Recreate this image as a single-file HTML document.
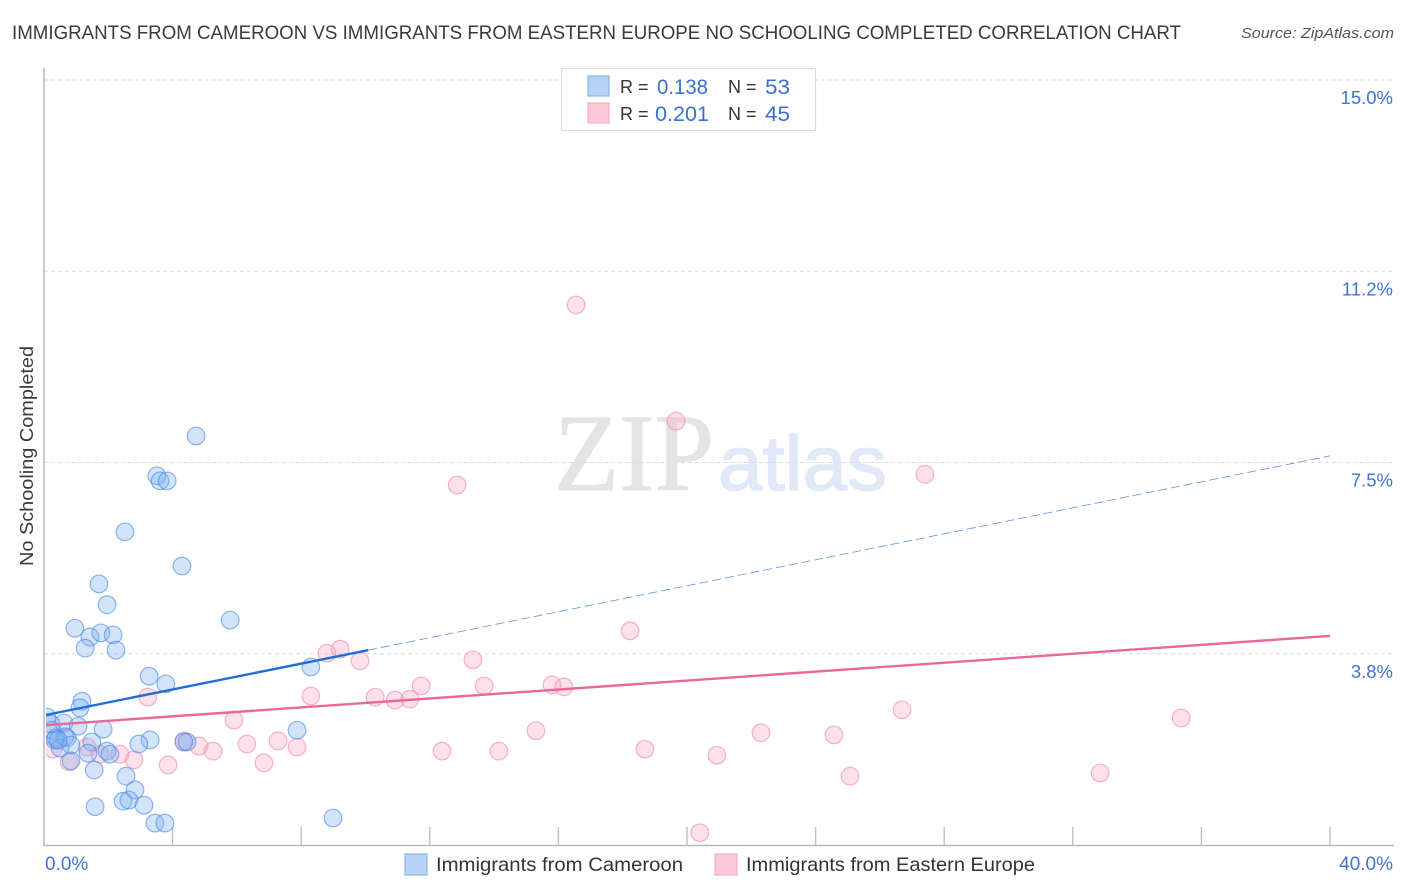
<!DOCTYPE html>
<html lang="en">
<head>
<meta charset="utf-8">
<title>Immigrants from Cameroon vs Immigrants from Eastern Europe No Schooling Completed Correlation Chart</title>
<style>
html,body{margin:0;padding:0;background:#fff;width:1406px;height:892px;overflow:hidden}
svg{display:block;font-family:"Liberation Sans",sans-serif}
</style>
</head>
<body>
<svg id="chart" xmlns="http://www.w3.org/2000/svg" width="1406" height="892" viewBox="0 0 1406 892">
  <defs>
    <clipPath id="plot-clip"><rect x="46" y="60" width="1348" height="785"/></clipPath>
  </defs>
  <rect x="0" y="0" width="1406" height="892" fill="#fff"/>
  <text x="12" y="39" font-size="19" fill="#3a3a3a" textLength="1169" lengthAdjust="spacingAndGlyphs">IMMIGRANTS FROM CAMEROON VS IMMIGRANTS FROM EASTERN EUROPE NO SCHOOLING COMPLETED CORRELATION CHART</text>
  <text x="1394" y="38" font-size="15" font-style="italic" fill="#555" text-anchor="end" textLength="153" lengthAdjust="spacingAndGlyphs">Source: ZipAtlas.com</text>

  <g>
    <text x="554" y="490" font-family="'Liberation Serif',serif" font-size="110" fill="#e4e4e4" stroke="#e4e4e4" stroke-width="1" textLength="160" lengthAdjust="spacingAndGlyphs">ZIP</text>
    <text x="718" y="490" font-size="77" fill="#dfe9f8" stroke="#dfe9f8" stroke-width="1.5" textLength="169" lengthAdjust="spacingAndGlyphs">atlas</text>
  </g>

  <g id="grid"></g>
  <g id="axes"></g>
  <g id="points-europe" clip-path="url(#plot-clip)"></g>
  <g id="points-cameroon" clip-path="url(#plot-clip)"></g>
  <g id="trends" clip-path="url(#plot-clip)"></g>
  <g id="labels"></g>

  <text transform="translate(33,456) rotate(-90)" font-size="18.5" fill="#3a3a3a" text-anchor="middle" textLength="220" lengthAdjust="spacingAndGlyphs">No Schooling Completed</text>

  <g>
    <rect x="561.5" y="68.5" width="254" height="62" fill="#fff" stroke="#ddd" stroke-width="1.2"/>
    <rect x="588" y="76" width="21" height="20" fill="#b5d2f7" stroke="#8ab6ea" stroke-width="1.2"/>
    <rect x="588" y="103" width="21" height="20" fill="#fcc9d9" stroke="#f4adc4" stroke-width="1.2"/>
    <text x="620" y="93" font-size="18" fill="#333">R =</text>
    <text x="657" y="94" font-size="21.5" fill="#3a70d2" textLength="51" lengthAdjust="spacingAndGlyphs">0.138</text>
    <text x="728" y="93" font-size="18" fill="#333">N =</text>
    <text x="765" y="94" font-size="21.5" fill="#3a70d2" textLength="25" lengthAdjust="spacingAndGlyphs">53</text>
    <text x="620" y="120" font-size="18" fill="#333">R =</text>
    <text x="655" y="121" font-size="21.5" fill="#3a70d2" textLength="54" lengthAdjust="spacingAndGlyphs">0.201</text>
    <text x="728" y="120" font-size="18" fill="#333">N =</text>
    <text x="765" y="121" font-size="21.5" fill="#3a70d2" textLength="25" lengthAdjust="spacingAndGlyphs">45</text>
  </g>

  <g>
    <rect x="405" y="854" width="22" height="21" fill="#b5d2f7" stroke="#8ab6ea" stroke-width="1.2"/>
    <text x="436" y="871" font-size="19.5" fill="#333" textLength="247" lengthAdjust="spacingAndGlyphs">Immigrants from Cameroon</text>
    <rect x="715" y="854" width="22" height="21" fill="#fcc9d9" stroke="#f4adc4" stroke-width="1.2"/>
    <text x="746" y="871" font-size="19.5" fill="#333" textLength="289" lengthAdjust="spacingAndGlyphs">Immigrants from Eastern Europe</text>
  </g>
</svg>
<script>
const xCameroon = [4.73,3.51,3.61,3.83,2.52,4.29,1.71,1.96,5.79,0.96,1.43,1.77,2.15,1.28,2.24,8.30,3.27,3.79,1.18,1.12,0.09,0.62,1.06,1.84,7.87,0.22,0.25,0.37,0.65,0.72,1.49,3.30,2.95,4.35,4.45,0.34,0.50,0.84,1.96,2.05,1.37,0.84,1.56,2.55,2.83,2.46,2.64,3.11,1.59,3.45,3.76,8.99,0.44];
const yCameroon = [8.02,7.24,7.14,7.14,6.14,5.47,5.12,4.71,4.41,4.25,4.08,4.16,4.12,3.86,3.82,3.49,3.31,3.16,2.82,2.69,2.51,2.39,2.33,2.27,2.25,2.37,2.25,2.10,2.12,2.10,2.02,2.06,1.98,2.02,2.02,2.06,1.90,1.96,1.84,1.78,1.80,1.65,1.47,1.35,1.08,0.86,0.88,0.78,0.75,0.43,0.43,0.53,2.06];
const xEurope = [16.55,19.66,27.40,12.85,18.23,9.21,8.80,9.83,13.34,11.73,13.69,15.80,16.17,8.30,3.23,10.30,10.92,11.38,5.91,15.30,35.37,26.69,22.30,24.57,4.35,4.82,5.26,6.31,7.28,7.87,12.38,14.15,18.69,20.93,6.84,3.86,2.80,2.36,1.34,1.74,0.78,0.28,25.07,32.85,20.40];
const yEurope = [10.59,8.31,7.27,7.06,4.20,3.84,3.76,3.61,3.63,3.12,3.12,3.14,3.10,2.92,2.90,2.90,2.84,2.86,2.45,2.24,2.49,2.65,2.20,2.16,2.04,1.94,1.84,1.98,2.04,1.92,1.84,1.84,1.88,1.76,1.61,1.57,1.67,1.78,1.92,1.78,1.63,1.88,1.35,1.41,0.24];
const trendCameroonX = [0.06,10.08,40];
const trendCameroonY = [2.55,3.82,7.63];
const trendEuropeX = [0.06,40];
const trendEuropeY = [2.35,4.10];
const yTicks = [3.75,7.5,11.25,15];
const yTickLabels = ["3.8%","7.5%","11.2%","15.0%"];
const xTicks = [0,4,8,12,16,20,24,28,32,36,40];
const xEndLabels = ["0.0%","40.0%"];

const NS = "http://www.w3.org/2000/svg";
const xScale = v => 44 + v * 32.15;
const yScale = v => 845 - v * 51;

function make(parent, tag, attrs, text) {
  const el = document.createElementNS(NS, tag);
  for (const k in attrs) el.setAttribute(k, attrs[k]);
  if (text !== undefined) el.textContent = text;
  parent.appendChild(el);
  return el;
}

const grid = document.getElementById("grid");
const axes = document.getElementById("axes");
const labels = document.getElementById("labels");
const ptsC = document.getElementById("points-cameroon");
const ptsE = document.getElementById("points-europe");
const trends = document.getElementById("trends");

yTicks.forEach((t, i) => {
  const line = make(grid, "line", {x1: 44, x2: 1393, y1: yScale(t), y2: yScale(t), stroke: "#dcdcdc", "stroke-width": 1, "stroke-dasharray": "4 3"});
  
  
  const lab = make(labels, "text", {x: 1393, y: yScale(t) + 24, "font-size": 18.5, fill: "#3f74d4", "text-anchor": "end"}, yTickLabels[i]);
  
  
});

const yAxis = make(axes, "line", {x1: 44, x2: 44, y1: 68, y2: 846, stroke: "#b8b8b8", "stroke-width": 1.5});


const xAxis = make(axes, "line", {x1: 44, x2: 1394, y1: 845.5, y2: 845.5, stroke: "#b8b8b8", "stroke-width": 1.5});


xTicks.slice(1).forEach(t => {
  const tick = make(axes, "line", {x1: xScale(t), x2: xScale(t), y1: 827, y2: 845, stroke: "#c0c0c0", "stroke-width": 1.4});
  
  
});

const x0Label = make(labels, "text", {x: 45, y: 870, "font-size": 19, fill: "#3f74d4"}, xEndLabels[0]);


const x1Label = make(labels, "text", {x: 1393, y: 870, "font-size": 19, fill: "#3f74d4", "text-anchor": "end"}, xEndLabels[1]);



xEurope.forEach((x, i) => {
  const c = make(ptsE, "circle", {cx: xScale(x), cy: yScale(yEurope[i]), r: 8.8, fill: "rgba(250,170,195,0.36)", stroke: "rgba(235,135,170,0.6)", "stroke-width": 1.2});
  
  
});
xCameroon.forEach((x, i) => {
  const c = make(ptsC, "circle", {cx: xScale(x), cy: yScale(yCameroon[i]), r: 8.8, fill: "rgba(125,175,240,0.34)", stroke: "rgba(70,135,225,0.6)", "stroke-width": 1.2});
  
  
});

const eTrend = make(trends, "line", {x1: xScale(trendEuropeX[0]), y1: yScale(trendEuropeY[0]), x2: xScale(trendEuropeX[1]), y2: yScale(trendEuropeY[1]), stroke: "#e8689c", "stroke-width": 2.4});


const cTrend = make(trends, "line", {x1: xScale(trendCameroonX[0]), y1: yScale(trendCameroonY[0]), x2: xScale(trendCameroonX[1]), y2: yScale(trendCameroonY[1]), stroke: "#1f6fd6", "stroke-width": 2.4});


const cDash = make(trends, "line", {x1: xScale(trendCameroonX[1]), y1: yScale(trendCameroonY[1]), x2: xScale(trendCameroonX[2]), y2: yScale(trendCameroonY[2]), stroke: "#3f7fd8", "stroke-width": 0.8, "stroke-dasharray": "9 4", opacity: 0.85});


</script>
</body>
</html>
